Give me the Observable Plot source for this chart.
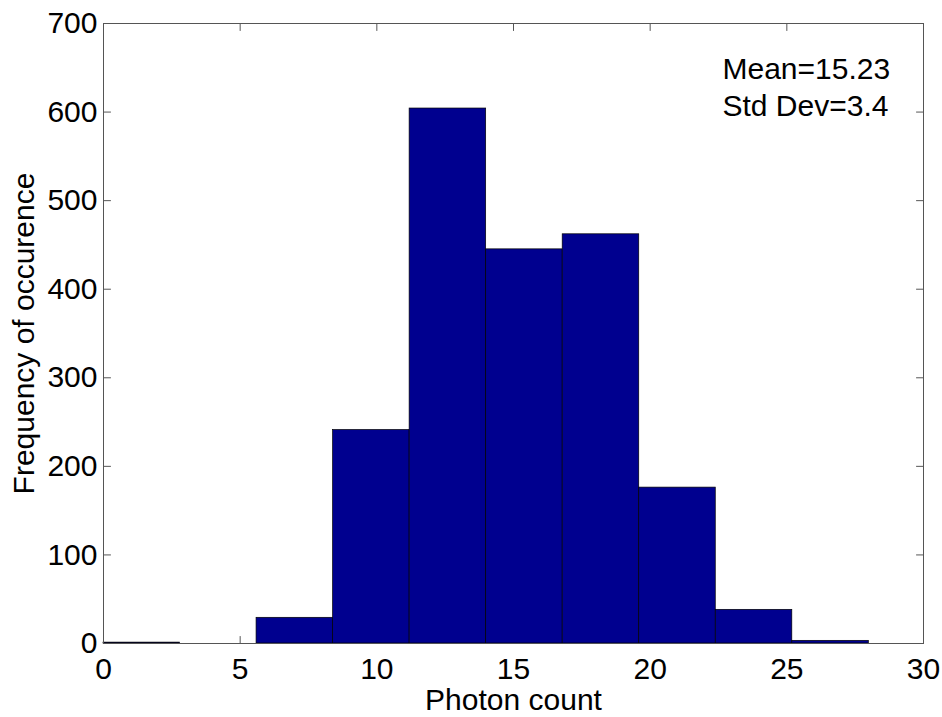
<!DOCTYPE html>
<html>
<head>
<meta charset="utf-8">
<script src="https://cdn.jsdelivr.net/npm/d3@7"></script>
<script src="https://cdn.jsdelivr.net/npm/@observablehq/plot@0.6"></script>
<style>
  html, body { margin: 0; padding: 0; background: #fff; }
  #chart { width: 942px; height: 717px; }
</style>
</head>
<body>
<div id="chart"></div>
<script>
// Histogram of photon counts: 10 bins of width 2.8 from 0 to 28
const binEdges = [0, 2.8, 5.6, 8.4, 11.2, 14.0, 16.8, 19.6, 22.4, 25.2, 28.0];
const binCounts = [1, 0, 29, 241, 604, 445, 462, 176, 38, 3];
const xTicks = [0, 5, 10, 15, 20, 25, 30];
const yTicks = [0, 100, 200, 300, 400, 500, 600, 700];
const meanValue = 15.23;
const stdDev = 3.4;
const xLabel = "Photon count";
const yLabel = "Frequency of occurence";

const bins = binCounts.map((count, i) => ({x1: binEdges[i], x2: binEdges[i + 1], count}));

// Short straight tick drawn inward from the frame edge
const tickLine = {draw(context, l) { context.moveTo(0, 0); context.lineTo(0, -l); }};
const tickStyle = {length: 7, anchor: "start", shape: tickLine, stroke: "#555", strokeWidth: 1};

const font = "'Liberation Sans', Arial, Helvetica, sans-serif";

const chart = Plot.plot({
  width: 942,
  height: 717,
  marginLeft: 103,
  marginRight: 19,
  marginTop: 23,
  marginBottom: 74,
  style: {fontFamily: font, fontSize: "30px", background: "#fff", color: "#000", overflow: "visible"},
  x: {domain: [0, 30]},
  y: {domain: [0, 700]},
  marks: [
    // inward ticks on all four sides
    Plot.vector(xTicks, {x: d => d, y: 0, rotate: 0, ...tickStyle}),
    Plot.vector(xTicks, {x: d => d, y: 700, rotate: 180, ...tickStyle}),
    Plot.vector(yTicks, {y: d => d, x: 0, rotate: 90, ...tickStyle}),
    Plot.vector(yTicks, {y: d => d, x: 30, rotate: 270, ...tickStyle}),
    Plot.rectY(bins, {x1: "x1", x2: "x2", y: "count", fill: "#00008f", stroke: "#000", strokeWidth: 0.7}),
    Plot.frame({stroke: "#555", strokeWidth: 1}),
    Plot.axisX(xTicks, {tickSize: 0, tickPadding: 14, fontSize: 30, label: null}),
    Plot.axisY(yTicks, {tickSize: 0, tickPadding: 6, fontSize: 30, label: null}),
    Plot.text([xLabel], {text: d => d, frameAnchor: "bottom", textAnchor: "middle", dy: 57, lineAnchor: "middle", fontSize: 30}),
    Plot.text([yLabel], {text: d => d, frameAnchor: "left", textAnchor: "middle", dx: -79, rotate: -90, lineAnchor: "middle", fontSize: 30}),
    Plot.text([`Mean=${meanValue}\nStd Dev=${stdDev}`], {
      text: d => d, frameAnchor: "top-left", textAnchor: "start", lineAnchor: "top",
      dx: 619, dy: 28, lineHeight: 1.267, fontSize: 30
    })
  ]
});

document.getElementById("chart").appendChild(chart);
</script>
</body>
</html>
